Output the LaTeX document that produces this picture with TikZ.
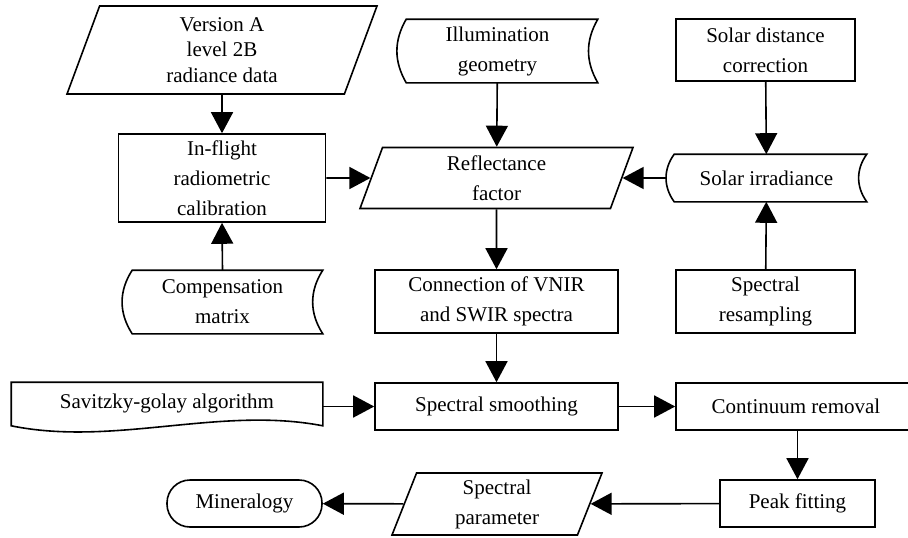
\documentclass[tikz,border=0pt]{standalone}
\usepackage{fontspec}
\setmainfont{Liberation Serif}
\usetikzlibrary{arrows.meta,shapes.geometric}

\begin{document}
\begin{tikzpicture}[x=1pt,y=-1pt,>={Triangle[length=21pt,width=22pt]},
  font=\fontsize{21}{30}\selectfont,line width=1.6pt,
  every node/.style={inner sep=0pt,align=center},
  proc/.style={draw,rectangle},
  io/.style={draw,trapezium,trapezium left angle=63.4,trapezium right angle=116.6,
    trapezium stretches body},
  store/.style={rectangle},
  term/.style={draw,rectangle,rounded corners=23pt},
  flow/.style={->}]
  \useasboundingbox (0,0) rectangle (908,538);
  % top row
  \node[io,minimum width=310pt,minimum height=88pt,font=\fontsize{21}{25.5}\selectfont]
    (verA) at (222,50) {Version A\\ level 2B\\radiance data};
  \node[store,minimum width=199pt,minimum height=62pt] (illum) at (497.5,51) {Illumination\\geometry};
  \node[proc,minimum width=179pt,minimum height=62pt] (soldist) at (765.5,50) {Solar distance\\correction};
  % second row
  \node[proc,minimum width=207pt,minimum height=88pt] (inflight) at (222,178) {In-flight\\radiometric\\calibration};
  \node[io,minimum width=273pt,minimum height=61pt] (refl) at (496.5,178) {Reflectance\\factor};
  \node[store,minimum width=199pt,minimum height=46pt] (solirr) at (766.5,178) {Solar irradiance};
  % third row
  \node[store,minimum width=199pt,minimum height=62pt] (comp) at (222.5,302) {Compensation\\matrix};
  \node[proc,minimum width=243pt,minimum height=63pt] (conn) at (496.5,301.5) {Connection of VNIR\\and SWIR spectra};
  \node[proc,minimum width=179pt,minimum height=63pt] (resamp) at (765.5,301.5) {Spectral\\resampling};
  % fourth row
  \node[store,minimum width=310pt,minimum height=41pt] (savgol) at (167,403.5) {Savitzky-golay algorithm};
  \node[proc,minimum width=243pt,minimum height=47pt] (smooth) at (496.5,406.5) {Spectral smoothing};
  \node[proc,minimum width=240pt,minimum height=47pt] (contin) at (796,406.5) {Continuum removal};
  % bottom row
  \node[term,minimum width=155pt,minimum height=47pt] (miner) at (244.5,503.5) {Mineralogy};
  \node[io,minimum width=210pt,minimum height=62pt] (param) at (497,504) {Spectral\\parameter};
  \node[proc,minimum width=155pt,minimum height=47pt] (peak) at (797.5,503.5) {Peak fitting};

  % stored data outlines
  \foreach \n/\b/\a in {illum/9/30,comp/10/33,solirr/8/36}{
    \draw ([xshift=\b pt]\n.north west) to[bend right=\a] ([xshift=\b pt]\n.south west)
      -- (\n.south east) to[bend left=\a] (\n.north east) -- cycle;
  }
  % document outline
  \draw (savgol.north west) -- ([yshift=-1pt]savgol.south west)
    .. controls +(103,21) and +(-103,-20) .. ([yshift=-1pt]savgol.south east)
    -- (savgol.north east) -- cycle;

  % connectors
  \draw[flow] (verA.south) -- (inflight.north);
  \draw[flow] (comp.north) -- (inflight.south);
  \draw[flow] (inflight) -- (refl);
  \draw[flow] (illum) -- (refl);
  \draw[flow] (soldist) -- (solirr);
  \draw[flow] (resamp) -- (solirr);
  \draw[flow] (solirr) -- (refl);
  \draw[flow] (refl) -- (conn);
  \draw[flow] (conn) -- (smooth);
  \draw[flow] (savgol.east |- smooth) -- (smooth);
  \draw[flow] (smooth) -- (contin);
  \draw[flow] (contin.south -| peak) -- (peak);
  \draw[flow] (peak) -- (param);
  \draw[flow] (param) -- (miner);
\end{tikzpicture}
\end{document}
